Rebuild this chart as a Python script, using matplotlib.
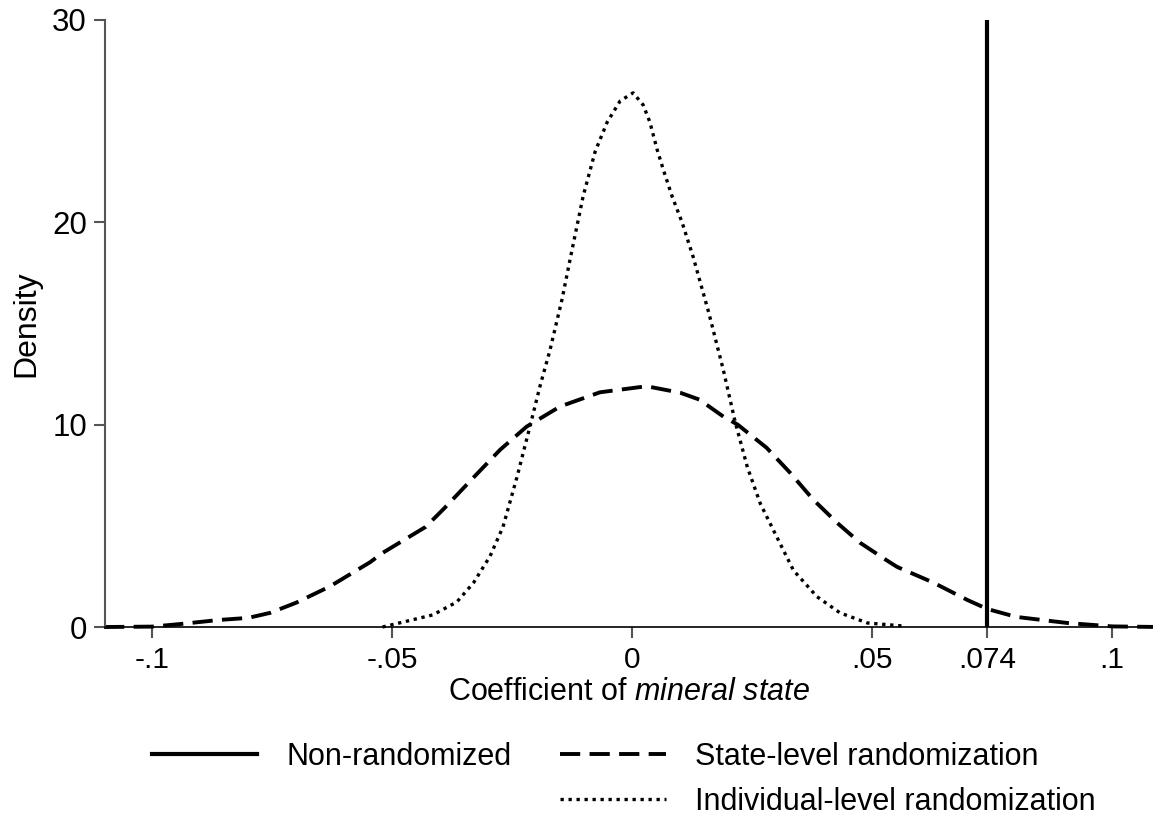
import matplotlib
matplotlib.use("Agg")
import matplotlib.pyplot as plt
from matplotlib.lines import Line2D

plt.rcParams['font.family'] = ['Liberation Sans', 'DejaVu Sans']
plt.rcParams['mathtext.fontset'] = 'custom'
plt.rcParams['mathtext.rm'] = 'Liberation Sans'
plt.rcParams['mathtext.it'] = 'Liberation Sans:italic'

# State-level randomization (dashed density)
state_x = [-0.110, -0.100, -0.094, -0.086, -0.080, -0.0754, -0.070, -0.063, -0.0546, -0.052,
           -0.043, -0.039, -0.033, -0.0275, -0.022, -0.015, -0.0067, 0.003, 0.010, 0.014,
           0.019, 0.022, 0.028, 0.033, 0.0377, 0.0427, 0.0475, 0.053, 0.0552, 0.0627,
           0.0698, 0.074, 0.080, 0.0906, 0.100, 0.110]
state_y = [0.0, 0.02, 0.15, 0.35, 0.45, 0.7, 1.2, 2.0, 3.2, 3.66,
           4.95, 5.9, 7.4, 8.76, 9.9, 10.9, 11.6, 11.9, 11.58, 11.24,
           10.4, 10.0, 8.86, 7.6, 6.3, 5.15, 4.16, 3.3, 2.97, 2.2,
           1.34, 0.89, 0.5, 0.2, 0.03, 0.0]

# Individual-level randomization (dotted density)
indiv_x = [-0.052, -0.0415, -0.0365, -0.033, -0.0296, -0.0269, -0.024, -0.0213, -0.0192, -0.0171,
           -0.0146, -0.0129, -0.0102, -0.0077, -0.0052, -0.0025, 0.0002, 0.0023, 0.0037, 0.0052,
           0.0065, 0.0083, 0.0104, 0.0127, 0.016, 0.019, 0.0215, 0.024, 0.0267, 0.0294,
           0.0336, 0.0385, 0.0433, 0.049, 0.0565, 0.057]
indiv_y = [0.0, 0.6, 1.24, 2.2, 3.5, 4.95, 7.4, 9.9, 11.9, 13.7,
           16.2, 18.2, 21.3, 23.5, 24.95, 26.0, 26.4, 25.8, 24.95, 23.6,
           22.6, 21.3, 20.0, 18.3, 15.5, 12.7, 10.1, 7.9, 6.1, 4.8,
           2.8, 1.5, 0.7, 0.2, 0.05, 0.0]

# Non-randomized coefficient
point_estimate = 0.074

xticks = [-0.1, -0.05, 0, 0.05, 0.074, 0.1]
xtick_labels = ["-.1", "-.05", "0", ".05", ".074", ".1"]
yticks = [0, 10, 20, 30]
ytick_labels = ["0", "10", "20", "30"]

fig = plt.figure(figsize=(11.53, 8.16), dpi=100)
ax = fig.add_axes([0.0911, 0.2316, 0.9089, 0.7439])

ax.plot(state_x, state_y, color="black", lw=2.8, dashes=(5.2, 2.4), dash_capstyle="butt", clip_on=False)
ax.plot(indiv_x, indiv_y, color="black", lw=2.4, dashes=(1, 1.4), clip_on=False)
ax.axvline(point_estimate, color="black", lw=3)

ax.set_xlim(-0.1098, 0.1085)
ax.set_ylim(0, 30)

ax.set_xticks(xticks)
ax.set_xticklabels(xtick_labels, fontsize=21.5)
ax.set_yticks(yticks)
ax.set_yticklabels(ytick_labels, fontsize=22.5)
ax.tick_params(axis="both", direction="out", length=8, width=1.5, color="#555555")
ax.tick_params(axis="y", pad=5)
ax.tick_params(axis="x", pad=6)

for side in ["top", "right"]:
    ax.spines[side].set_visible(False)
ax.spines["left"].set_color("#555555")
ax.spines["left"].set_linewidth(1.5)
ax.spines["bottom"].set_color("black")
ax.spines["bottom"].set_linewidth(1.2)

ax.set_xlabel("Coefficient of $\\mathit{mineral\\ state}$", fontsize=22, labelpad=2)
ax.set_ylabel("Density", fontsize=23, labelpad=8)

handles = [
    Line2D([], [], color="black", lw=3),
    Line2D([], [], linestyle="none"),
    Line2D([], [], color="black", lw=2.8, dashes=(5.2, 2.4), dash_capstyle="butt"),
    Line2D([], [], color="black", lw=2.4, dashes=(1, 1.4)),
]
labels = ["Non-randomized", "", "State-level randomization", "Individual-level randomization"]
fig.legend(handles, labels, ncol=2, loc="upper left", bbox_to_anchor=(0.1318, 0.091),
           frameon=False, fontsize=22, handlelength=3.45, handletextpad=0.95,
           columnspacing=1.6, labelspacing=0.5, borderpad=0, borderaxespad=0)

fig.savefig("out.png", dpi=100)
